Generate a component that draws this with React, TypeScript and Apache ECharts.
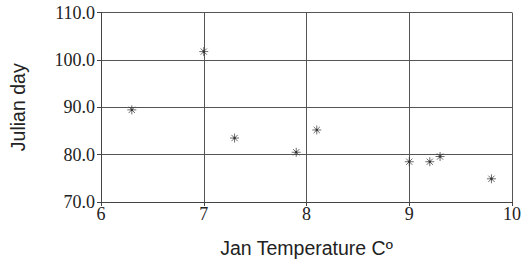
import React, { useEffect, useRef } from "react";
import * as echarts from "echarts";

const janTemp = [6.3, 7.0, 7.3, 7.9, 8.1, 9.0, 9.2, 9.3, 9.8];
const julianDay = [89.45, 101.75, 83.5, 80.5, 85.2, 78.5, 78.5, 79.6, 74.9];
const xTicks = [6, 7, 8, 9, 10];
const yTicks = [70, 80, 90, 100, 110];

const ASTERISK =
  "path://M5,0 L5,10 M0,5 L10,5 M1.5,1.5 L8.5,8.5 M1.5,8.5 L8.5,1.5 M4.2,4.2 L5.8,4.2 L5.8,5.8 L4.2,5.8 Z";

export default function App() {
  const ref = useRef<HTMLDivElement>(null);
  useEffect(() => {
    if (!ref.current) return;
    const chart = echarts.init(ref.current, undefined, { renderer: "svg" });
    const serif = "Liberation Serif";
    const sans = "Liberation Sans";
    const labelStyle = {
      fontFamily: serif,
      fontSize: 18,
      color: "#222",
    };
    chart.setOption({
      animation: false,
      backgroundColor: "#ffffff",
      textStyle: { fontFamily: serif, fontSize: 18, color: "#222" },
      grid: { left: 100, right: 8, top: 12.5, bottom: 67, show: false },
      xAxis: {
        type: "value",
        min: xTicks[0],
        max: xTicks[xTicks.length - 1],
        interval: 1,
        name: "Jan Temperature C\u00BA",
        nameLocation: "middle",
        nameGap: 36,
        nameTextStyle: { fontFamily: sans, fontSize: 19.5, color: "#222" },
        axisLine: { show: true, lineStyle: { color: "#444", width: 1 } },
        axisTick: { show: true, length: 4, lineStyle: { color: "#444" } },
        axisLabel: { ...labelStyle, margin: 3, formatter: (v: number) => String(v) },
        splitLine: { show: true, lineStyle: { color: "#555", width: 1 } },
      },
      yAxis: {
        type: "value",
        min: yTicks[0],
        max: yTicks[yTicks.length - 1],
        interval: 10,
        name: "Julian day",
        nameLocation: "middle",
        nameGap: 73,
        nameRotate: 90,
        nameTextStyle: { fontFamily: sans, fontSize: 19.5, color: "#222" },
        axisLine: { show: true, lineStyle: { color: "#444", width: 1 } },
        axisTick: { show: true, length: 4, lineStyle: { color: "#444" } },
        axisLabel: {
          ...labelStyle,
          margin: 6,
          formatter: (v: number) => v.toFixed(1),
        },
        splitLine: { show: true, lineStyle: { color: "#555", width: 1 } },
      },
      series: [
        {
          type: "scatter",
          data: janTemp.map((x, i) => [x, julianDay[i]]),
          symbol: ASTERISK,
          symbolSize: 9,
          itemStyle: { color: "#222", borderColor: "#333", borderWidth: 0.9 },
          silent: true,
        },
      ],
    });
    return () => chart.dispose();
  }, []);
  return <div ref={ref} style={{ width: 524, height: 269, position: "absolute", left: 0, top: 0 }} />;
}
